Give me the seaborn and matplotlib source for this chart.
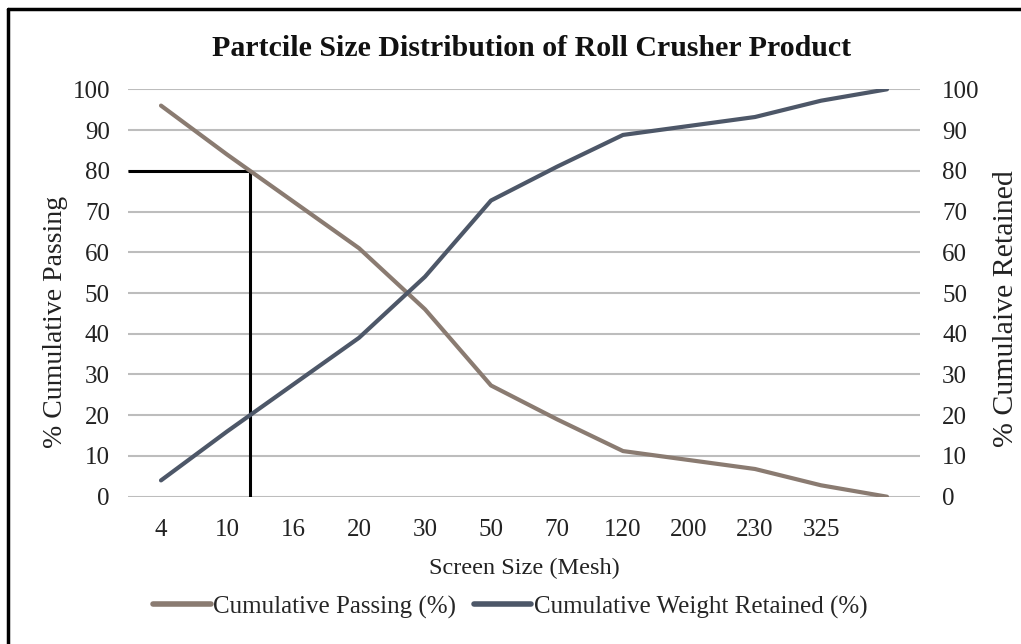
import numpy as np
import pandas as pd
import matplotlib
matplotlib.use("Agg")
import matplotlib.pyplot as plt
from matplotlib.lines import Line2D
import seaborn as sns

# ---- data ----
mesh_labels = ["4", "10", "16", "20", "30", "50", "70", "120", "200", "230", "325", ""]
cum_passing = [96, 84, 72.5, 61, 46, 27.3, 19, 11.2, 9, 6.8, 2.8, 0]
cum_retained = [4, 16, 27.5, 39, 54, 72.7, 81, 88.8, 91, 93.2, 97.2, 100]
y_ticks = [0, 10, 20, 30, 40, 50, 60, 70, 80, 90, 100]
d80_level = 80

title = "Partcile Size Distribution of Roll Crusher Product"
xlabel = "Screen Size (Mesh)"
ylabel_left = "% Cumulative Passing"
ylabel_right = "% Cumulaive Retained"
label_passing = "Cumulative Passing (%)"
label_retained = "Cumulative Weight Retained (%)"

c_pass = "#8a7b71"
c_ret = "#4d5768"
c_grid = "#bdbdbd"
c_text = "#222222"

sns.set_theme(style="white")
plt.rcParams["font.family"] = ["Liberation Serif", "DejaVu Serif"]

W, H = 1021, 644
pos = np.arange(len(mesh_labels))
df = pd.DataFrame({"pos": pos, "passing": cum_passing, "retained": cum_retained})

fig = plt.figure(figsize=(W / 100, H / 100), dpi=100)
ax = fig.add_axes([128 / W, 1 - 496.7 / H, (920 - 128) / W, (496.7 - 89.3) / H])
ax2 = ax.twinx()

for a in (ax, ax2):
    a.set_ylim(0, 100)
    a.set_xlim(-0.5, len(mesh_labels) - 0.5)
    for s in a.spines.values():
        s.set_visible(False)

ax.set_yticks(y_ticks)
ax.yaxis.grid(True, color=c_grid, linewidth=1.5)
ax.set_axisbelow(True)
ax.tick_params(axis="y", length=0, labelsize=18, colors=c_text, pad=13)
ax.tick_params(axis="x", length=0, labelsize=18, colors=c_text, pad=16)
ax2.set_yticks(y_ticks)
ax2.tick_params(axis="y", length=0, labelsize=18, colors=c_text, pad=16)

ax.set_xticks(pos)
ax.set_xticklabels(mesh_labels)

# D80 reference lines
x80 = np.interp(-d80_level, -np.array(cum_passing), pos)
ax.plot([-0.5, x80], [d80_level, d80_level], color="black", linewidth=2.2, solid_capstyle="butt", zorder=3)
ax.plot([x80, x80], [0, d80_level], color="black", linewidth=2.2, solid_capstyle="butt", zorder=3)

sns.lineplot(data=df, x="pos", y="passing", ax=ax, color=c_pass, linewidth=3, legend=False, zorder=4)
sns.lineplot(data=df, x="pos", y="retained", ax=ax2, color=c_ret, linewidth=3, legend=False, zorder=4)
ax.set_xlabel("")
ax.set_ylabel("")
ax2.set_ylabel("")

fig.text(524 / W, 1 - 568 / H, xlabel, ha="center", va="center", fontsize=17.5, color=c_text)
fig.text(55 / W, 1 - 322 / H, ylabel_left, ha="center", va="center", rotation=90, fontsize=20, color=c_text)
fig.text(1006 / W, 1 - 309 / H, ylabel_right, ha="center", va="center", rotation=90, fontsize=21.5, color=c_text)

fig.text(532 / W, 1 - 56 / H, title, ha="center", va="baseline", fontsize=21.5, fontweight="bold", color="#111111")

handles = [Line2D([], [], color=c_pass, linewidth=4), Line2D([], [], color=c_ret, linewidth=4)]
fig.legend(handles, [label_passing, label_retained], loc="center", bbox_to_anchor=(0.5, 1 - 607 / H),
           ncol=2, frameon=False, fontsize=18, handlelength=2.3, handletextpad=0.1, columnspacing=0.7)

# figure border (top and left visible)
fig.add_artist(Line2D([8 / W, 8 / W], [0, 1 - 9 / H], transform=fig.transFigure, color="black", linewidth=2.5))
fig.add_artist(Line2D([8 / W, 1], [1 - 9 / H, 1 - 9 / H], transform=fig.transFigure, color="black", linewidth=2.5))

fig.savefig("out.png", dpi=100, facecolor="white")
